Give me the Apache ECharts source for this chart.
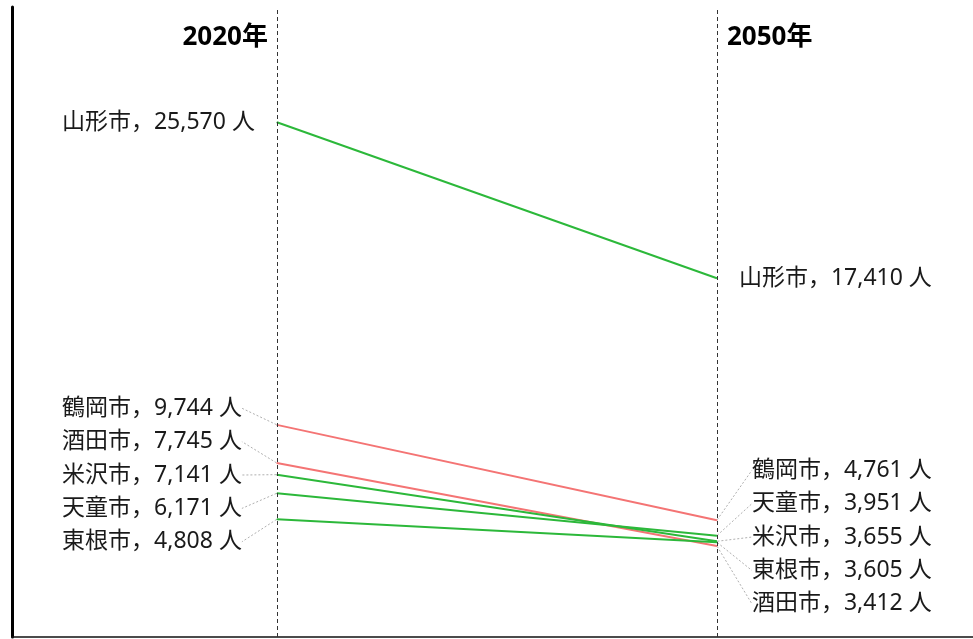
<!DOCTYPE html>
<html>
<head>
<meta charset="utf-8">
<style>
  html, body { margin: 0; padding: 0; background: #fff; }
  #chart { width: 973px; height: 639px; }
</style>
<script src="https://cdn.jsdelivr.net/npm/echarts@6/dist/echarts.min.js"></script>
</head>
<body>
<div id="chart"></div>
<script>
// ---- data ----
const years = ['2020年', '2050年'];
const cities = ['山形市', '鶴岡市', '酒田市', '米沢市', '天童市', '東根市'];
const pop2020 = [25570, 9744, 7745, 7141, 6171, 4808];
const pop2050 = [17410, 4761, 3412, 3655, 3951, 3605];
const lineColors = ['#2cb83a', '#f47474', '#f47474', '#2cb83a', '#2cb83a', '#2cb83a'];

const FONT = "'Noto Sans', 'Noto Sans CJK JP', sans-serif";
const LABEL_SPACING = 33.4;
const DIST_NEAR = 19;
const DIST_FAR = 32;

const chart = echarts.init(document.getElementById('chart'));
let labelPos = {};
let titleGraphics = [];

function fmt(v) { return v.toLocaleString('en-US'); }

function buildOption() {
  const series = cities.map((c, i) => {
    const items = [pop2020[i], pop2050[i]].map((v, k) => {
      const key = i + '_' + k;
      const lp = labelPos[key];
      return {
        value: [k, v],
        label: { position: k === 0 ? 'left' : 'right' },
        labelLine: { show: !!(lp && lp.clustered) }
      };
    });
    return {
      type: 'line',
      name: c,
      data: items,
      symbol: 'circle',
      symbolSize: 1,
      lineStyle: { color: lineColors[i], width: 2 },
      itemStyle: { color: lineColors[i] },
      z: lineColors[i] === '#2cb83a' ? 3 : 2,
      label: {
        show: true,
        fontFamily: FONT,
        fontSize: 23,
        color: '#1a1a1a',
        padding: 3,
        formatter: p => cities[p.seriesIndex] + '，' + fmt(p.value[1]) + ' 人'
      },
      labelLine: {
        show: false,
        lineStyle: { color: '#b0b0b0', width: 1, type: [2, 2] }
      },
      labelLayout: function (params) {
        const lp = labelPos[params.seriesIndex + '_' + params.dataIndex];
        if (!lp) return {};
        return { x: lp.x, y: lp.y, align: lp.align, verticalAlign: 'middle' };
      },
      emphasis: { disabled: true }
    };
  });
  series.push({
    type: 'line',
    data: [],
    markLine: {
      silent: true,
      symbol: 'none',
      label: { show: false },
      lineStyle: { color: '#333', width: 1, type: [4, 3] },
      data: years.map((y, k) => ({ xAxis: k }))
    }
  });
  return {
    animation: false,
    backgroundColor: '#fff',
    grid: { left: 12, right: 0, top: 7, bottom: 2, containLabel: false },
    xAxis: {
      type: 'value', min: -0.602, max: 1.582,
      axisLine: { show: true, onZero: false, lineStyle: { color: '#111', width: 1.5 } },
      axisTick: { show: false }, axisLabel: { show: false }, splitLine: { show: false }
    },
    yAxis: {
      type: 'value', min: -1350, max: 31600,
      axisLine: { show: true, onZero: false, lineStyle: { color: '#000', width: 3 } },
      axisTick: { show: false }, axisLabel: { show: false }, splitLine: { show: false }
    },
    graphic: titleGraphics,
    series: series
  };
}

function spread(points) {
  // points: [{key, y}] ; merge overlapping clusters, center each on its mean
  points.sort((a, b) => a.y - b.y);
  let clusters = points.map(p => ({ members: [p], mean: p.y }));
  function top(c) { return c.mean - (c.members.length - 1) * LABEL_SPACING / 2; }
  function bottom(c) { return c.mean + (c.members.length - 1) * LABEL_SPACING / 2; }
  let changed = true;
  while (changed) {
    changed = false;
    for (let j = 0; j < clusters.length - 1; j++) {
      const a = clusters[j], b = clusters[j + 1];
      if (bottom(a) + LABEL_SPACING > top(b)) {
        const members = a.members.concat(b.members);
        const mean = members.reduce((s, m) => s + m.y, 0) / members.length;
        clusters.splice(j, 2, { members, mean });
        changed = true;
        break;
      }
    }
  }
  const out = {};
  clusters.forEach(c => {
    const t = top(c);
    c.members.forEach((m, idx) => {
      out[m.key] = { y: t + idx * LABEL_SPACING, clustered: c.members.length > 1 };
    });
  });
  return out;
}

chart.setOption(buildOption());

// second pass: compute label positions from the axis scale
[pop2020, pop2050].forEach((vals, k) => {
  const pts = vals.map((v, i) => {
    const px = chart.convertToPixel({ gridIndex: 0 }, [k, v]);
    return { key: i + '_' + k, y: px[1], x: px[0] };
  });
  const xs = {};
  pts.forEach(p => { xs[p.key] = p.x; });
  const res = spread(pts.slice());
  Object.keys(res).forEach(key => {
    const r = res[key];
    const d = r.clustered ? DIST_FAR : DIST_NEAR;
    labelPos[key] = {
      x: k === 0 ? xs[key] - d : xs[key] + d,
      y: r.y,
      align: k === 0 ? 'right' : 'left',
      clustered: r.clustered
    };
  });
});

const x0 = chart.convertToPixel({ gridIndex: 0 }, [0, 0])[0];
const x1 = chart.convertToPixel({ gridIndex: 0 }, [1, 0])[0];
titleGraphics = [
  { type: 'text', x: x0 - 9, y: 38, style: { text: years[0], font: 'bold 26px ' + FONT, fill: '#000', textAlign: 'right', textVerticalAlign: 'middle' } },
  { type: 'text', x: x1 + 10, y: 38, style: { text: years[1], font: 'bold 26px ' + FONT, fill: '#000', textAlign: 'left', textVerticalAlign: 'middle' } }
];

chart.setOption(buildOption(), true);
</script>
</body>
</html>
